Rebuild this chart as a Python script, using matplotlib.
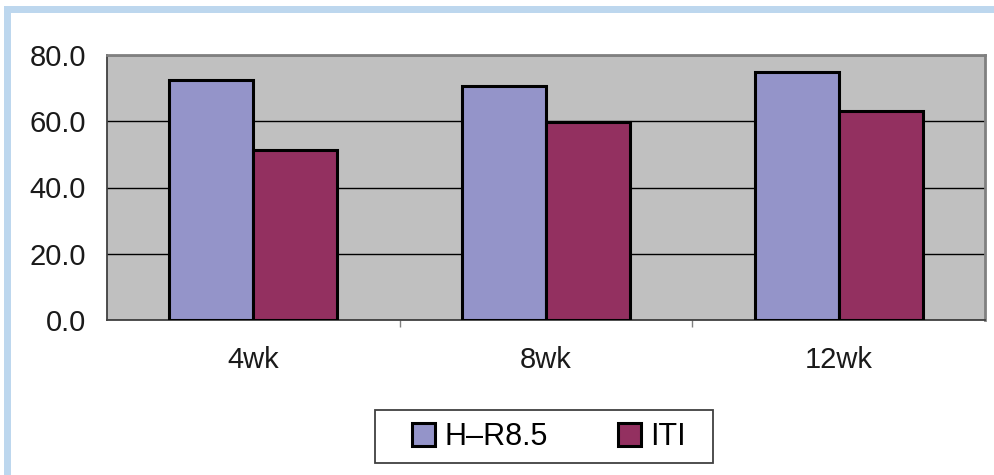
import matplotlib
matplotlib.use("Agg")
import matplotlib.pyplot as plt
from matplotlib.patches import Rectangle, Patch
import numpy as np

categories = ["4wk", "8wk", "12wk"]
series_names = ["H\u2013R8.5", "ITI"]
hr_values = [72.5, 70.6, 74.9]
iti_values = [51.3, 59.8, 63.1]
yticks = [0.0, 20.0, 40.0, 60.0, 80.0]
ytick_labels = ["0.0", "20.0", "40.0", "60.0", "80.0"]

plt.rcParams['font.family'] = ['Liberation Sans', 'DejaVu Sans']

W, H = 995, 475
fig = plt.figure(figsize=(W / 100, H / 100), dpi=100)
fig.patch.set_facecolor("white")

# light blue frame (top and left)
border_col = "#bdd7ee"
fig.patches.append(Rectangle((4 / W, 1 - 13 / H), 1 - 4 / W, 7 / H,
                             transform=fig.transFigure, facecolor=border_col,
                             edgecolor="none", zorder=0))
fig.patches.append(Rectangle((4 / W, 0), 7 / W, 1 - 6 / H,
                             transform=fig.transFigure, facecolor=border_col,
                             edgecolor="none", zorder=0))

ax = fig.add_axes([107 / W, 1 - 320 / H, (985 - 107) / W, (320 - 55) / H])
ax.set_facecolor("#c0c0c0")

x = np.arange(len(categories))
bw = 0.287
c1, c2 = "#9494c9", "#933060"
ax.bar(x - bw / 2, hr_values, bw, color=c1, edgecolor="black", linewidth=2.2,
       zorder=3, label=series_names[0])
ax.bar(x + bw / 2, iti_values, bw, color=c2, edgecolor="black", linewidth=2.2,
       zorder=3, label=series_names[1])

ax.set_xlim(-0.5, len(categories) - 0.5)
ax.set_ylim(0, 80)
ax.set_yticks(yticks)
ax.set_yticklabels(ytick_labels)
ax.set_xticks(x)
ax.set_xticklabels(categories)
ax.set_xticks(np.arange(0.5, len(categories) - 0.5, 1), minor=True)

ax.yaxis.grid(True, color="black", linewidth=1.0, zorder=1)
ax.set_axisbelow(True)

for s in ["top", "right"]:
    ax.spines[s].set_color("#808080")
    ax.spines[s].set_linewidth(2.0)
ax.spines["left"].set_color("#404040")
ax.spines["left"].set_linewidth(1.3)
ax.spines["bottom"].set_color("#404040")
ax.spines["bottom"].set_linewidth(1.3)

ax.tick_params(axis="y", length=0, pad=15, labelsize=21, labelcolor="#1a1a1a")
ax.tick_params(axis="x", which="major", length=0, pad=19, labelsize=21,
               labelcolor="#1a1a1a")
ax.tick_params(axis="x", which="minor", length=5, color="#808080", width=1)

# legend frame drawn separately
fig.patches.append(Rectangle((375 / W, 1 - 463 / H), 338 / W, 53 / H,
                             transform=fig.transFigure, facecolor="white",
                             edgecolor="#404040", linewidth=1.3, zorder=1))

handles = [Patch(facecolor=c1, edgecolor="black", linewidth=2.2),
           Patch(facecolor=c2, edgecolor="black", linewidth=2.2)]
leg = fig.legend(handles, series_names, loc="center",
                 bbox_to_anchor=(549 / W, 1 - 437 / H), ncol=2,
                 fontsize=22, frameon=False,
                 handlelength=0.75, handleheight=0.75,
                 handletextpad=0.3, columnspacing=2.3, borderpad=0.4,
                 borderaxespad=0)
leg.set_zorder(2)

fig.savefig("out.png", dpi=100, facecolor="white")
